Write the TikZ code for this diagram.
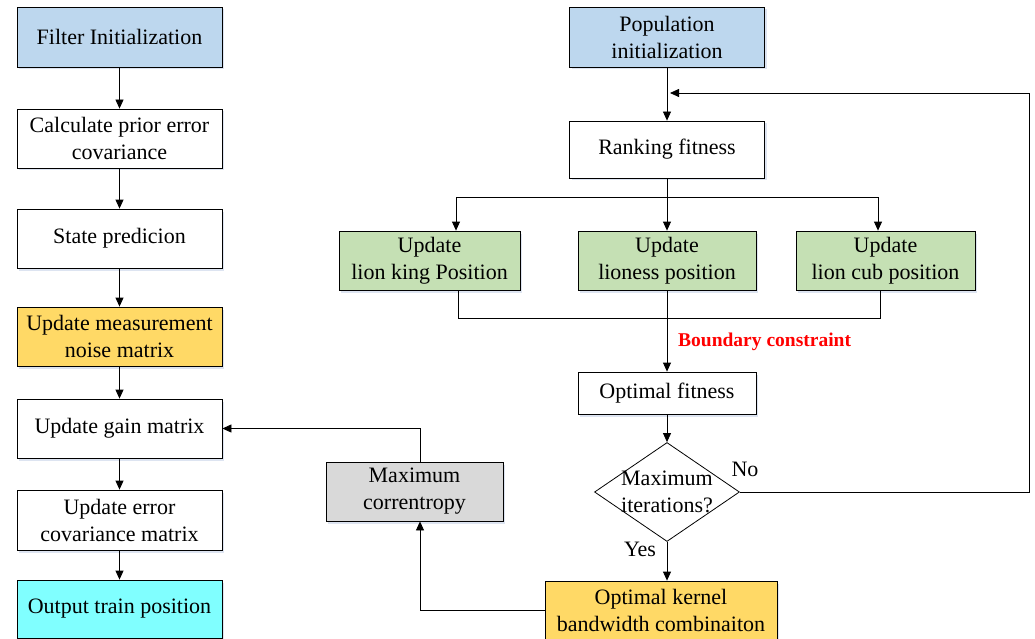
\documentclass[tikz,border=0pt]{standalone}
\usepackage{fontspec}
\setmainfont{Liberation Serif}
\usetikzlibrary{shapes.geometric,arrows.meta,shadows}
\definecolor{cblue}{HTML}{BDD7EE}
\definecolor{cgreen}{HTML}{C5E0B4}
\definecolor{cyellow}{HTML}{FFD966}
\definecolor{ccyan}{HTML}{80FFFF}
\definecolor{cgray}{HTML}{D9D9D9}
\definecolor{cshadow}{HTML}{9DB3D6}
\begin{document}
\begin{tikzpicture}[x=1pt,y=-1pt,
  font=\fontsize{22}{27}\selectfont,
  box/.style={draw, line width=0.8pt, align=center, inner sep=0pt, fill=white,
    drop shadow={shadow xshift=2pt, shadow yshift=-2.5pt, opacity=0.35, fill=cshadow}},
  lbox/.style={box, minimum width=205pt, minimum height=59pt},
  arr/.style={-{Triangle[length=9pt,width=8pt]}, line width=0.8pt},
  ln/.style={line width=0.8pt}]
\useasboundingbox (0,0) rectangle (1035,639);

% left column
\node[lbox, fill=cblue, minimum height=60pt] (fi) at (119.5,37) {Filter Initialization};
\node[lbox] (cp) at (119.5,138.5) {Calculate prior error\\covariance};
\node[lbox] (sp) at (119.5,238.5) {State predicion};
\node[lbox, fill=cyellow] (um) at (119.5,336.5) {Update measurement\\noise matrix};
\node[lbox] (ug) at (119.5,428.5) {Update gain matrix};
\node[lbox, minimum height=60pt] (ue) at (119.5,520) {Update error\\covariance matrix};
\node[lbox, fill=ccyan, minimum height=58pt] (ot) at (119.5,609) {Output train position};

\draw[arr] (fi) -- (cp);
\draw[arr] (cp) -- (sp);
\draw[arr] (sp) -- (um);
\draw[arr] (um) -- (ug);
\draw[arr] (ug) -- (ue);
\draw[arr] (ue) -- (ot);

% right part
\node[box, fill=cblue, minimum width=195pt, minimum height=60pt] (pi) at (667,37) {Population\\initialization};
\node[box, minimum width=195pt, minimum height=57pt] (rf) at (667,149.5) {Ranking fitness};
\node[box, fill=cgreen, minimum width=181pt, minimum height=59pt] (lk) at (429.5,260.5) {Update\\lion king Position};
\node[box, fill=cgreen, minimum width=178pt, minimum height=59pt] (lss) at (667,260.5) {Update\\lioness position};
\node[box, fill=cgreen, minimum width=179pt, minimum height=59pt] (lc) at (885.5,260.5) {Update\\lion cub position};
\node[box, minimum width=178pt, minimum height=42pt] (of) at (667,393) {Optimal fitness};
\node[draw, diamond, line width=0.8pt, minimum width=145pt, minimum height=99pt, inner sep=0pt] (dm) at (667,492) {};
\node[align=center, inner sep=0pt] (dmt) at (dm) {Maximum\\iterations?};
\node[box, fill=cgray, minimum width=177pt, minimum height=59pt] (mc) at (414.5,491.5) {Maximum\\correntropy};
\node[box, fill=cyellow, minimum width=232pt, minimum height=58pt] (ok) at (661,610) {Optimal kernel\\bandwidth combinaiton};

\node[anchor=west, text=red, font=\fontsize{19.5}{22}\selectfont\bfseries, inner sep=0pt] (bc) at (678,342) {Boundary constraint};
\node[inner sep=0pt] (no) at (745,469) {No};
\node[inner sep=0pt] (yes) at (640,549) {Yes};

\coordinate (rc) at (1029,93);
\coordinate (fb) at (670,93);
\coordinate (sp1) at (667,197);
\coordinate (mg) at (667,318);

\draw[arr] (pi) -- (rf);
\draw[ln] (rf.south) -- (sp1);
\draw[arr] (sp1) -| ([xshift=26.5pt]lk.north);
\draw[arr] (sp1) -- (lss.north);
\draw[arr] (sp1) -| ([xshift=-7.5pt]lc.north);
\draw[ln] ([xshift=28.5pt]lk.south) |- (mg);
\draw[ln] ([xshift=-5.5pt]lc.south) |- (mg);
\draw[ln] (lss.south) -- (mg);
\draw[arr] (mg) -- (of.north);
\draw[arr] (of) -- (dm.north);
\draw[arr] (dm.east) -| (rc) -- (fb);
\draw[arr] (dm.south) -- (dm.south |- ok.north);
\draw[arr] (ok.west) -| ([xshift=5.5pt]mc.south);
\draw[arr] ([xshift=5.5pt]mc.north) |- (ug.east);
\end{tikzpicture}
\end{document}
